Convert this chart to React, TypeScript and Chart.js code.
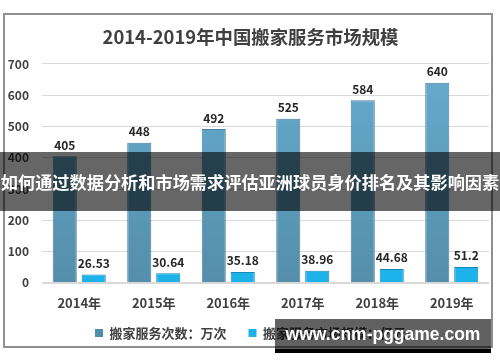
import React, { useEffect, useRef } from "react";
import { Chart, registerables } from "chart.js";

Chart.register(...registerables);

const titleText = "2014-2019年中国搬家服务市场规模";
const categories = ["2014年", "2015年", "2016年", "2017年", "2018年", "2019年"];
const serviceCounts = [405, 448, 492, 525, 584, 640];
const marketSize = [26.53, 30.64, 35.18, 38.96, 44.68, 51.2];
const seriesNames = ["搬家服务次数：万次", "搬家服务市场规模：亿元"];
const yMin = 0;
const yMax = 700;
const yStep = 100;
const bannerText = "如何通过数据分析和市场需求评估亚洲球员身价排名及其影响因素";
const watermarkText = "www.cnm-pggame.com";

const FONT = "'Noto Sans CJK SC', 'Noto Sans', sans-serif";
const TEXT_COLOR = "#404040";

const dataLabelPlugin = {
  id: "dataLabels",
  afterDatasetsDraw(chart: any) {
    const ctx = chart.ctx;
    ctx.save();
    ctx.font = `bold 12px ${FONT}`;
    ctx.fillStyle = "#262626";
    ctx.textAlign = "center";
    ctx.textBaseline = "bottom";
    chart.data.datasets.forEach((ds: any, di: number) => {
      const meta = chart.getDatasetMeta(di);
      meta.data.forEach((bar: any, i: number) => {
        ctx.fillText(String(ds.data[i]), bar.x, bar.y - 5);
      });
    });
    ctx.restore();
  },
};

export default function App() {
  const canvasRef = useRef<HTMLCanvasElement | null>(null);

  useEffect(() => {
    const canvas = canvasRef.current;
    if (!canvas) return;
    const darkFill = (context: any) => {
      const chart = context.chart;
      const area = chart.chartArea;
      if (!area) return "#5fa5c6";
      const g = chart.ctx.createLinearGradient(0, area.top, 0, area.bottom);
      g.addColorStop(0, "#66acce");
      g.addColorStop(1, "#548eab");
      return g;
    };
    const chart = new Chart(canvas, {
      type: "bar",
      data: {
        labels: categories,
        datasets: [
          {
            label: seriesNames[0],
            data: serviceCounts,
            backgroundColor: darkFill,
            borderColor: "#4a7f9c",
            borderWidth: 1,
            categoryPercentage: 0.778,
            barPercentage: 0.83,
          },
          {
            label: seriesNames[1],
            data: marketSize,
            backgroundColor: "#1db3ea",
            borderColor: "#1288bb",
            borderWidth: 1,
            categoryPercentage: 0.778,
            barPercentage: 0.83,
          },
        ],
      },
      options: {
        responsive: false,
        animation: false,
        layout: { padding: { left: 12, right: 11, top: 14, bottom: 12.5 } },
        plugins: {
          title: {
            display: true,
            text: titleText,
            color: TEXT_COLOR,
            font: { family: FONT, size: 18.4, weight: "bold", lineHeight: 1.2 },
            padding: { top: 11.5, bottom: 16.4 },
          },
          legend: {
            position: "bottom",
            labels: {
              boxWidth: 8,
              boxHeight: 8,
              padding: 22,
              color: TEXT_COLOR,
              font: { family: FONT, size: 13, weight: "bold" },
              generateLabels: (ch: any) => {
                const colors = ["#4e8fae", "#1db3ea"];
                return ch.data.datasets.map((ds: any, i: number) => ({
                  text: ds.label,
                  fillStyle: colors[i],
                  strokeStyle: colors[i],
                  lineWidth: 0,
                  hidden: false,
                  datasetIndex: i,
                  fontColor: TEXT_COLOR,
                }));
              },
            },
          },
          tooltip: { enabled: false },
        },
        scales: {
          x: {
            grid: { display: false },
            border: { display: false },
            ticks: {
              color: TEXT_COLOR,
              padding: 4,
              autoSkip: false,
              maxRotation: 0,
              minRotation: 0,
              font: { family: FONT, size: 13, weight: "bold" },
            },
            afterFit: (scale: any) => {
              scale.height = 21.6;
              scale._computeLabelArea = () => undefined;
            },
          },
          y: {
            min: yMin,
            max: yMax,
            border: { display: false },
            grid: {
              color: "#d9d9d9",
              lineWidth: (c: any) => (c.tick && c.tick.value === 0 ? 2 : 1),
              drawTicks: false,
            },
            ticks: {
              stepSize: yStep,
              color: TEXT_COLOR,
              padding: 13,
              font: { family: FONT, size: 12, weight: "bold" },
            },
            afterFit: (scale: any) => {
              scale.width = 30;
              scale._computeLabelArea = () => undefined;
            },
          },
        },
      },
      plugins: [dataLabelPlugin],
    } as any);
    return () => chart.destroy();
  }, []);

  return (
    <div
      style={{
        position: "absolute",
        left: 0,
        top: 0,
        width: 500,
        height: 362,
        background: "#ffffff",
        overflow: "hidden",
      }}
    >
      <div
        style={{
          position: "absolute",
          left: 3,
          top: 13,
          width: 490,
          height: 335,
          boxSizing: "border-box",
          border: "2px solid #8f8f8f",
        }}
      />
      <canvas
        ref={canvasRef}
        width={500}
        height={362}
        style={{ position: "absolute", left: 0, top: 0, width: 500, height: 362 }}
      />
      <div
        style={{
          position: "absolute",
          left: 0,
          top: 152,
          width: 500,
          height: 59,
          background: "rgba(0,0,0,0.6)",
          color: "#ffffff",
          fontFamily: FONT,
          fontWeight: "bold",
          fontSize: 17.2,
          lineHeight: "59px",
          textAlign: "center",
          whiteSpace: "nowrap",
        }}
      >
        {bannerText}
      </div>
      <div
        style={{
          position: "absolute",
          left: 275,
          top: 319,
          width: 216,
          height: 30,
          background: "rgba(0,0,0,0.62)",
          borderBottom: "4px solid #000000",
          color: "#ffffff",
          fontFamily: "'Liberation Sans', Arial, sans-serif",
          fontWeight: "bold",
          fontSize: 17.5,
          lineHeight: "30px",
          textAlign: "center",
          whiteSpace: "nowrap",
        }}
      >
        {watermarkText}
      </div>
    </div>
  );
}
